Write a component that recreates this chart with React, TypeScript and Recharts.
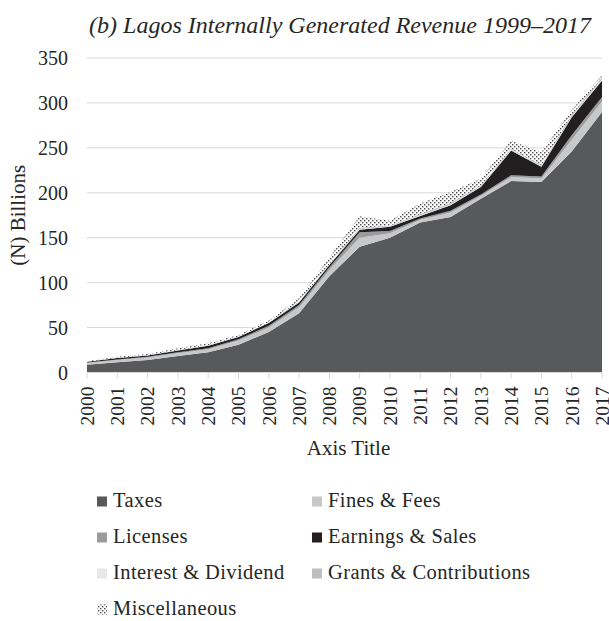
import React from 'react';
import { AreaChart, Area, XAxis, YAxis, CartesianGrid } from 'recharts';

const years = ['2000', '2001', '2002', '2003', '2004', '2005', '2006', '2007', '2008', '2009', '2010', '2011', '2012', '2013', '2014', '2015', '2016', '2017'];
const taxes = [8.5, 11.5, 14, 18.5, 22.4, 31, 45, 66, 107, 140, 150, 167, 173, 193.5, 213, 212, 246, 290];
const finesFees = [2, 2.3, 2.6, 3, 3.5, 4.5, 5, 6.5, 7, 10, 5, 3, 5, 3, 4.5, 4, 13, 12];
const licenses = [0.6, 0.7, 0.8, 1, 1.2, 1.5, 2, 2.5, 3, 6, 2.6, 1.5, 2, 1.5, 2, 2, 5, 4.5];
const earningsSales = [0.8, 1.6, 1.6, 2, 2.8, 2.5, 3, 3, 2.5, 3, 4.5, 2.8, 6, 8.5, 27.5, 11, 20, 18.5];
const interestDividend = [0.1, 0.2, 0.2, 0.3, 0.3, 0.3, 0.4, 0.5, 0.5, 0.8, 0.6, 0.8, 1, 0.7, 0.8, 0.8, 1, 1.5];
const grantsContributions = [0.1, 0.2, 0.2, 0.3, 0.3, 0.3, 0.4, 0.5, 0.5, 1.2, 1, 1.2, 1.5, 1, 1.2, 1.2, 2, 2];
const miscellaneous = [0.4, 1.0, 1.1, 1.9, 2, 1.6, 2.2, 3.5, 7.5, 13, 5.3, 11.7, 12.5, 7.5, 9, 14, 5, 2.5];
const yTicks = [0, 50, 100, 150, 200, 250, 300, 350];

const title = '(b) Lagos Internally Generated Revenue 1999\u20132017';
const yTitle = '(N) Billions';
const xTitle = 'Axis Title';

const series = [
  { key: 'taxes', name: 'Taxes', values: taxes, fill: '#58595b' },
  { key: 'finesFees', name: 'Fines & Fees', values: finesFees, fill: '#c7c8ca' },
  { key: 'licenses', name: 'Licenses', values: licenses, fill: '#9a9b9d' },
  { key: 'earningsSales', name: 'Earnings & Sales', values: earningsSales, fill: '#231f20' },
  { key: 'interestDividend', name: 'Interest & Dividend', values: interestDividend, fill: '#e6e7e8' },
  { key: 'grantsContributions', name: 'Grants & Contributions', values: grantsContributions, fill: '#bcbec0' },
  { key: 'miscellaneous', name: 'Miscellaneous', values: miscellaneous, fill: 'url(#dots)' },
];

const data = years.map((year, i) => {
  const row: Record<string, number | string> = { year };
  series.forEach((s) => {
    row[s.key] = s.values[i];
  });
  return row;
});

const FONT = "'Liberation Serif', 'Times New Roman', serif";
const TEXT = '#262626';

const XTick = (props: any) => {
  const { x, y, payload } = props;
  return (
    <text
      transform={`translate(${x},${y + 6}) rotate(-90)`}
      textAnchor="end"
      dy="0.35em"
      fontSize={19.5}
      fontFamily={FONT}
      fill={TEXT}
    >
      {payload.value}
    </text>
  );
};

const Pattern = ({ id }: { id: string }) => (
  <pattern id={id} width="4" height="4" patternUnits="userSpaceOnUse">
    <rect width="4" height="4" fill="#ffffff" />
    <rect x="0" y="0" width="1.4" height="1.4" fill="#4a4a4a" />
    <rect x="2" y="2" width="1.4" height="1.4" fill="#4a4a4a" />
  </pattern>
);

const legendPos = [
  { x: 97, y: 507 },
  { x: 312, y: 507 },
  { x: 97, y: 543 },
  { x: 312, y: 543 },
  { x: 97, y: 579 },
  { x: 312, y: 579 },
  { x: 97, y: 615 },
];

export default function App() {
  return (
    <div style={{ position: 'absolute', left: 0, top: 0, width: 609, height: 621, background: '#fff' }}>
      <div style={{ position: 'absolute', left: 0, top: 0 }}>
        <AreaChart width={609} height={470} data={data} margin={{ top: 58, right: 7, left: 27, bottom: 7.5 }}>
          <defs>
            <Pattern id="dots" />
          </defs>
          <CartesianGrid vertical={false} stroke="#d9d9d9" strokeWidth={1} />
          <XAxis
            dataKey="year"
            interval={0}
            height={90}
            axisLine={{ stroke: '#d9d9d9' }}
            tickLine={{ stroke: '#d9d9d9' }}
            tickSize={6}
            tick={<XTick />}
            label={{ value: xTitle, position: 'insideBottom', offset: 8, dx: 4, fontSize: 21, fontFamily: FONT, fill: TEXT }}
          />
          <YAxis
            domain={[0, 350]}
            ticks={yTicks}
            width={60}
            axisLine={false}
            tickLine={false}
            tickSize={6}
            tickMargin={13}
            tick={{ fontSize: 20, fontFamily: FONT, fill: TEXT }}
            label={(props: any) => {
              const vb = props.viewBox || { x: 27, y: 58, width: 60, height: 314 };
              const cy = vb.y + vb.height / 2;
              return (
                <text
                  transform={`translate(25,${cy}) rotate(-90)`}
                  textAnchor="middle"
                  fontSize={21}
                  fontFamily={FONT}
                  fill={TEXT}
                >
                  {yTitle}
                </text>
              );
            }}
          />
          {series.map((s) => (
            <Area
              key={s.key}
              type="linear"
              dataKey={s.key}
              name={s.name}
              stackId="1"
              stroke="none"
              fill={s.fill}
              fillOpacity={1}
              isAnimationActive={false}
              dot={false}
              activeDot={false}
            />
          ))}
        </AreaChart>
      </div>
      <svg width={609} height={621} style={{ position: 'absolute', left: 0, top: 0, pointerEvents: 'none' }}>
        <defs>
          <Pattern id="dotsLegend" />
        </defs>
        <text x={340} y={33} textAnchor="middle" fontSize={24} fontStyle="italic" fontFamily={FONT} fill={TEXT}>
          {title}
        </text>
        {series.map((s, i) => (
          <g key={s.key}>
            <rect
              x={legendPos[i].x}
              y={legendPos[i].y - 10.5}
              width={10}
              height={10}
              fill={s.key === 'miscellaneous' ? 'url(#dotsLegend)' : s.fill}
            />
            <text
              x={legendPos[i].x + 16}
              y={legendPos[i].y}
              fontSize={20.5}
              letterSpacing={0.4}
              fontFamily={FONT}
              fill={TEXT}
            >
              {s.name}
            </text>
          </g>
        ))}
      </svg>
    </div>
  );
}
